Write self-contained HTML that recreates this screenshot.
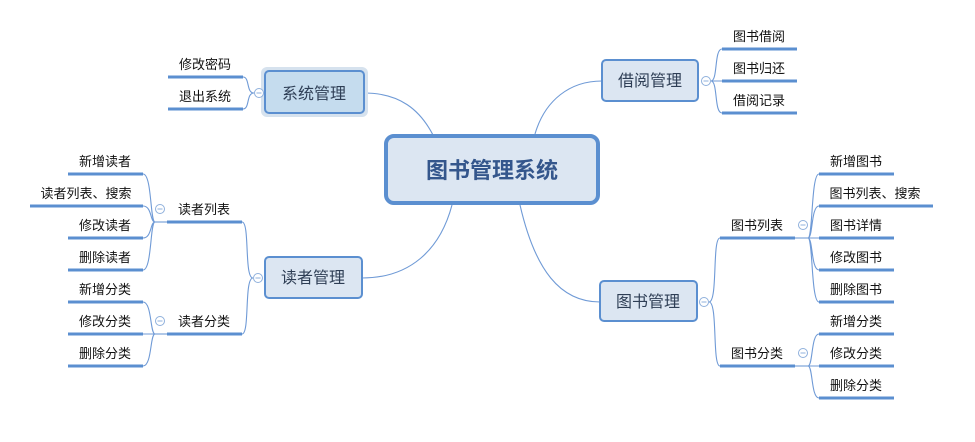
<!DOCTYPE html>
<html><head><meta charset="utf-8"><style>
html,body{margin:0;padding:0;background:#fff;}
svg{display:block;}
text{font-family:"Liberation Sans","Noto Sans CJK SC",sans-serif;}
.l{font-size:13px;fill:#111;text-anchor:middle;}
.ul{stroke:#5b8fd0;stroke-width:3;}
.c{stroke:#6f9ad6;stroke-width:1.1;fill:none;}
.ci{fill:#fff;stroke:#8fb0dc;stroke-width:1;}
.m{font-size:16px;fill:#2e3e55;text-anchor:middle;}
</style></head><body>
<svg width="975" height="442" viewBox="0 0 975 442" xmlns="http://www.w3.org/2000/svg">
<!-- connectors from center -->
<path class="c" d="M364,93 C400,93 420,110 433,135"/>
<path class="c" d="M362,278 C410,278 440,250 452,205"/>
<path class="c" d="M602,81 C570,81 545,100 535,134"/>
<path class="c" d="M600,302 C560,302 535,270 520,205"/>

<!-- center -->
<rect x="386" y="136" width="212" height="67" rx="8" fill="#dce6f2" stroke="#5b8fd0" stroke-width="4"/>
<text x="492" y="178" font-size="22" font-weight="bold" fill="#34568c" text-anchor="middle">图书管理系统</text>

<!-- 系统管理 -->
<rect x="261" y="67" width="107" height="50" rx="6" fill="#d6e2ee"/>
<rect x="265" y="71" width="99" height="42" rx="4" fill="#c5dcee" stroke="#5b8fd0" stroke-width="2"/>
<text class="m" x="314" y="99">系统管理</text>
<path class="c" d="M254,93 C246,93 250,77 243,77 M254,93 C246,93 250,109 243,109"/>
<line class="ul" x1="168" y1="77" x2="243" y2="77"/><text class="l" x="205" y="69">修改密码</text>
<line class="ul" x1="168" y1="109" x2="243" y2="109"/><text class="l" x="205" y="101">退出系统</text>
<circle class="ci" cx="259" cy="93" r="4.5"/><line x1="256.5" y1="93" x2="261.5" y2="93" stroke="#8fb0dc"/>

<!-- 读者管理 -->
<rect x="265" y="257" width="97" height="41" rx="4" fill="#dce6f2" stroke="#5b8fd0" stroke-width="2"/>
<text class="m" x="313" y="283">读者管理</text>
<path class="c" d="M253,278 C244,278 250,222 242,222 M253,278 C244,278 250,334 242,334"/>
<line class="ul" x1="167" y1="222" x2="242" y2="222"/><text class="l" x="204" y="214">读者列表</text>
<line class="ul" x1="167" y1="334" x2="242" y2="334"/><text class="l" x="204" y="326">读者分类</text>
<circle class="ci" cx="258" cy="278" r="4.5"/><line x1="255.5" y1="278" x2="260.5" y2="278" stroke="#8fb0dc"/>
<line class="c" x1="155" y1="222" x2="167" y2="222"/>
<path class="c" d="M155,222 C150,222 152,174 143,174 M155,222 C150,222 152,206 143,206 M155,222 C150,222 152,238 143,238 M155,222 C150,222 152,270 143,270"/>
<line class="ul" x1="68" y1="174" x2="143" y2="174"/><text class="l" x="105" y="166">新增读者</text>
<line class="ul" x1="30" y1="206" x2="143" y2="206"/><text class="l" x="86" y="198">读者列表、搜索</text>
<line class="ul" x1="68" y1="238" x2="143" y2="238"/><text class="l" x="105" y="230">修改读者</text>
<line class="ul" x1="68" y1="270" x2="143" y2="270"/><text class="l" x="105" y="262">删除读者</text>
<circle class="ci" cx="160" cy="209" r="4.5"/><line x1="157.5" y1="209" x2="162.5" y2="209" stroke="#8fb0dc"/>
<line class="c" x1="155" y1="334" x2="167" y2="334"/>
<path class="c" d="M155,334 C150,334 152,302 143,302 M155,334 L143,334 M155,334 C150,334 152,366 143,366"/>
<line class="ul" x1="68" y1="302" x2="143" y2="302"/><text class="l" x="105" y="294">新增分类</text>
<line class="ul" x1="68" y1="334" x2="143" y2="334"/><text class="l" x="105" y="326">修改分类</text>
<line class="ul" x1="68" y1="366" x2="143" y2="366"/><text class="l" x="105" y="358">删除分类</text>
<circle class="ci" cx="160" cy="321" r="4.5"/><line x1="157.5" y1="321" x2="162.5" y2="321" stroke="#8fb0dc"/>

<!-- 借阅管理 -->
<rect x="602" y="60" width="96" height="41" rx="4" fill="#dce6f2" stroke="#5b8fd0" stroke-width="2"/>
<text class="m" x="650" y="86">借阅管理</text>
<path class="c" d="M711,81 C718,81 714,49 722,49 M711,81 L722,81 M711,81 C718,81 714,113 722,113"/>
<line class="ul" x1="722" y1="49" x2="797" y2="49"/><text class="l" x="759" y="41">图书借阅</text>
<line class="ul" x1="722" y1="81" x2="797" y2="81"/><text class="l" x="759" y="73">图书归还</text>
<line class="ul" x1="722" y1="113" x2="797" y2="113"/><text class="l" x="759" y="105">借阅记录</text>
<circle class="ci" cx="706" cy="81" r="4.5"/><line x1="703.5" y1="81" x2="708.5" y2="81" stroke="#8fb0dc"/>

<!-- 图书管理 -->
<rect x="600" y="281" width="97" height="40" rx="4" fill="#dce6f2" stroke="#5b8fd0" stroke-width="2"/>
<text class="m" x="648" y="307">图书管理</text>
<path class="c" d="M709,302 C718,302 712,238 720,238 M709,302 C718,302 712,366 720,366"/>
<line class="ul" x1="720" y1="238" x2="795" y2="238"/><text class="l" x="757" y="230">图书列表</text>
<line class="ul" x1="720" y1="366" x2="795" y2="366"/><text class="l" x="757" y="358">图书分类</text>
<circle class="ci" cx="704" cy="302" r="4.5"/><line x1="701.5" y1="302" x2="706.5" y2="302" stroke="#8fb0dc"/>
<line class="c" x1="795" y1="238" x2="808" y2="238"/>
<path class="c" d="M808,238 C813,238 811,174 819,174 M808,238 C813,238 811,206 819,206 M808,238 L819,238 M808,238 C813,238 811,270 819,270 M808,238 C813,238 811,302 819,302"/>
<line class="ul" x1="819" y1="174" x2="894" y2="174"/><text class="l" x="856" y="166">新增图书</text>
<line class="ul" x1="819" y1="206" x2="933" y2="206"/><text class="l" x="875" y="198">图书列表、搜索</text>
<line class="ul" x1="819" y1="238" x2="894" y2="238"/><text class="l" x="856" y="230">图书详情</text>
<line class="ul" x1="819" y1="270" x2="894" y2="270"/><text class="l" x="856" y="262">修改图书</text>
<line class="ul" x1="819" y1="302" x2="894" y2="302"/><text class="l" x="856" y="294">删除图书</text>
<circle class="ci" cx="803" cy="225" r="4.5"/><line x1="800.5" y1="225" x2="805.5" y2="225" stroke="#8fb0dc"/>
<line class="c" x1="795" y1="366" x2="808" y2="366"/>
<path class="c" d="M808,366 C813,366 811,334 819,334 M808,366 L819,366 M808,366 C813,366 811,398 819,398"/>
<line class="ul" x1="819" y1="334" x2="894" y2="334"/><text class="l" x="856" y="326">新增分类</text>
<line class="ul" x1="819" y1="366" x2="894" y2="366"/><text class="l" x="856" y="358">修改分类</text>
<line class="ul" x1="819" y1="398" x2="894" y2="398"/><text class="l" x="856" y="390">删除分类</text>
<circle class="ci" cx="803" cy="353" r="4.5"/><line x1="800.5" y1="353" x2="805.5" y2="353" stroke="#8fb0dc"/>
</svg>
</body></html>
